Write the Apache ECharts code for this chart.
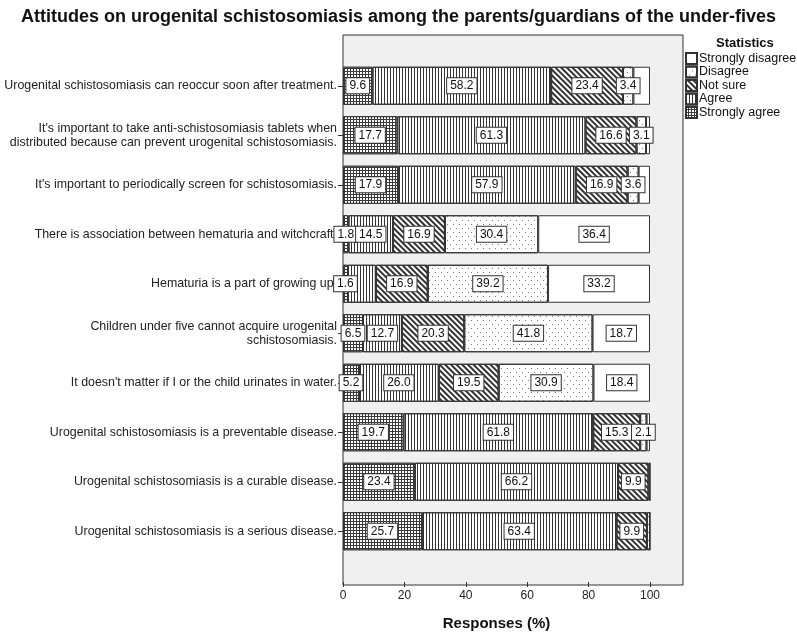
<!DOCTYPE html>
<html>
<head>
<meta charset="utf-8">
<script src="https://cdn.jsdelivr.net/npm/echarts@6/dist/echarts.min.js"></script>
<style>html,body{margin:0;padding:0;background:#fff}#c{width:797px;height:636px}</style>
</head>
<body>
<div id="c"></div>
<script>
const categories = [
  "Urogenital schistosomiasis can reoccur soon after treatment.",
  "It's important to take anti-schistosomiasis tablets when\ndistributed because can prevent urogenital schistosomiasis.",
  "It's important to periodically screen for schistosomiasis.",
  "There is association between hematuria and witchcraft.",
  "Hematuria is a part of growing up.",
  "Children under five cannot acquire urogenital\nschistosomiasis.",
  "It doesn't matter if I or the child urinates in water.",
  "Urogenital schistosomiasis is a preventable disease.",
  "Urogenital schistosomiasis is a curable disease.",
  "Urogenital schistosomiasis is a serious disease."
];
const stronglyAgree    = [9.6, 17.7, 17.9, 1.8, 1.6, 6.5, 5.2, 19.7, 23.4, 25.7];
const agree            = [58.2, 61.3, 57.9, 14.5, 9.1, 12.7, 26.0, 61.8, 66.2, 63.4];
const notSure          = [23.4, 16.6, 16.9, 16.9, 16.9, 20.3, 19.5, 15.3, 9.9, 9.9];
const disagree         = [3.4, 3.1, 3.6, 30.4, 39.2, 41.8, 30.9, 2.1, 0.5, 1.0];
const stronglyDisagree = [5.4, 1.3, 3.7, 36.4, 33.2, 18.7, 18.4, 1.1, 0.0, 0.0];
const seriesNames = ["Strongly agree", "Agree", "Not sure", "Disagree", "Strongly disagree"];
const legendOrder = ["Strongly disagree", "Disagree", "Not sure", "Agree", "Strongly agree"];
const xTicks = [0, 20, 40, 60, 80, 100];
// segments whose value label is not printed in the original
const unlabeled = {
  "Strongly agree": [],
  "Agree": [4],
  "Not sure": [],
  "Disagree": [8, 9],
  "Strongly disagree": [0, 1, 2, 7, 8, 9]
};

const seriesValues = [stronglyAgree, agree, notSure, disagree, stronglyDisagree];
const FONT = 'Liberation Sans, Arial, sans-serif';
const styles = {
  "Strongly agree": { color: '#3a3a3a', decal: { symbol: 'rect', color: '#ffffff', dashArrayX: [2, 1], dashArrayY: [2, 1], symbolSize: 1 } },
  "Agree": { color: '#ffffff', decal: { symbol: 'rect', color: '#333333', dashArrayX: [1, 2], dashArrayY: [1, 0], symbolSize: 1 } },
  "Not sure": { color: '#ffffff', decal: { symbol: 'rect', color: '#333333', dashArrayX: [2, 2], dashArrayY: [1, 0], symbolSize: 1, rotation: -Math.PI / 4 } },
  "Disagree": { color: '#ffffff', decal: { symbol: 'rect', color: '#777777', dashArrayX: [[1, 5], [0, 3, 1, 2]], dashArrayY: [1, 3], symbolSize: 1 } },
  "Strongly disagree": { color: '#ffffff', decal: null }
};

const series = seriesNames.map((name, si) => ({
  name: name,
  type: 'bar',
  stack: 'total',
  xAxisIndex: 1,
  yAxisIndex: 1,
  barWidth: 38,
  itemStyle: Object.assign({ borderColor: '#333', borderWidth: 1 }, styles[name]),
  label: {
    show: true,
    position: 'inside',
    color: '#111',
    fontSize: 12,
    fontFamily: FONT,
    backgroundColor: '#fff',
    borderColor: '#333',
    borderWidth: 1,
    padding: [2, 3, 1, 3],
    formatter: p => p.value.toFixed(1)
  },
  emphasis: { disabled: true },
  data: seriesValues[si].map((v, i) => unlabeled[name].indexOf(i) >= 0 ? { value: v, label: { show: false } } : v)
}));

const chart = echarts.init(document.getElementById('c'), null, { renderer: 'canvas' });
chart.setOption({
  animation: false,
  backgroundColor: '#fff',
  textStyle: { fontFamily: FONT },
  title: [
    { text: 'Attitudes on urogenital schistosomiasis among the parents/guardians of the under-fives', left: 'center', top: 3,
      textStyle: { fontSize: 18, fontWeight: 'bold', color: '#111', fontFamily: FONT } },
    { text: 'Statistics', left: 716, top: 37, padding: 0, textStyle: { fontSize: 13, fontWeight: 'bold', color: '#111', fontFamily: FONT } }
  ],
  legend: {
    orient: 'vertical', left: 685, top: 52, padding: 0, itemWidth: 11, itemHeight: 11, itemGap: 0.5,
    icon: 'rect', data: legendOrder,
    textStyle: { fontSize: 12.5, color: '#111', lineHeight: 12, padding: [0, 0, 0, -3], fontFamily: FONT },
    selectedMode: false
  },
  grid: [
    { left: 343, right: 114, top: 35, bottom: 51, show: true, backgroundColor: '#f0f0f0', borderColor: '#333', borderWidth: 1 },
    { left: 343, right: 147, top: 61, bottom: 77 }
  ],
  xAxis: [
    { gridIndex: 0, type: 'value', min: 0, max: 1, show: false },
    { gridIndex: 1, type: 'value', min: 0, max: 100, interval: 20, offset: 26,
      axisLine: { show: false },
      axisTick: { show: true, length: 5, lineStyle: { color: '#333' }, customValues: xTicks },
      axisLabel: { color: '#222', fontSize: 12, margin: 8, customValues: xTicks },
      splitLine: { show: false },
      name: 'Responses (%)', nameLocation: 'middle', nameGap: 34,
      nameTextStyle: { fontSize: 15, fontWeight: 'bold', color: '#111' } }
  ],
  yAxis: [
    { gridIndex: 0, type: 'value', min: 0, max: 1, show: false },
    { gridIndex: 1, type: 'category', inverse: true, data: categories,
      axisLine: { show: false },
      axisTick: { show: true, alignWithLabel: true, length: 5, lineStyle: { color: '#333' } },
      axisLabel: { color: '#222', fontSize: 12.4, margin: 6, align: 'right', lineHeight: 14 } }
  ],
  series: series
});
</script>
</body>
</html>
